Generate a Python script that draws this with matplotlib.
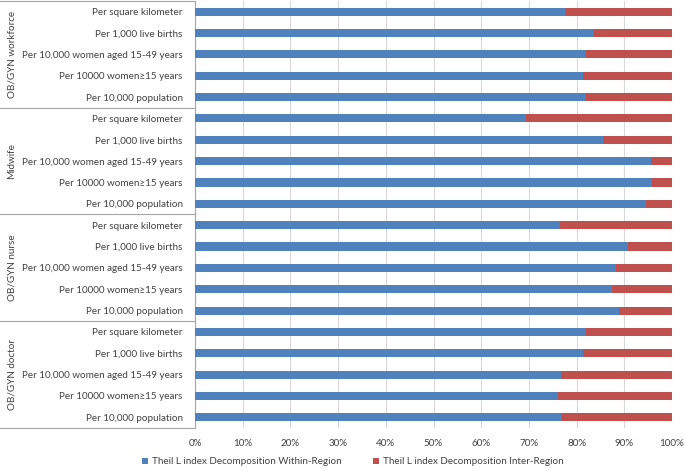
import numpy as np
import matplotlib.pyplot as plt
import matplotlib.transforms as mtransforms
from matplotlib.lines import Line2D

plt.rcParams['font.family'] = ['Lato', 'DejaVu Sans']

# groups, top to bottom
groups = ['OB/GYN workforce', 'Midwife', 'OB/GYN nurse', 'OB/GYN doctor']
measures = ['Per square kilometer', 'Per 1,000 live births',
            'Per 10,000 women aged 15-49 years', 'Per 10000 women\u226515 years',
            'Per 10,000 population']

# within-region share (%), one list per group, same order as measures
within_workforce = [77.6, 83.6, 82.0, 81.4, 82.0]
within_midwife = [69.3, 85.6, 95.5, 95.8, 94.5]
within_nurse = [76.5, 90.7, 88.3, 87.5, 88.9]
within_doctor = [82.0, 81.3, 76.8, 76.1, 77.0]

within = np.array(within_workforce + within_midwife + within_nurse + within_doctor)
inter = 100 - within
labels = measures * len(groups)

blue = '#4F81BD'
red = '#C0504D'
txt = '#404040'
line_c = '#A6A6A6'
fs = 7.1

fig = plt.figure(figsize=(6.85, 4.71), dpi=100)
ax = fig.add_axes([195/685, 1 - 428/471, 477/685, 427/471])

n = len(within)
y = np.arange(n)[::-1]
h = 0.38
ax.barh(y, within, height=h, color=blue, label='Theil L index Decomposition Within-Region', zorder=3)
ax.barh(y, inter, left=within, height=h, color=red, label='Theil L index Decomposition Inter-Region', zorder=3)

ax.set_xlim(0, 100)
ax.set_ylim(-0.5, n - 0.5)
ax.set_xticks(np.arange(0, 101, 10))
ax.set_xticklabels([f'{v}%' for v in range(0, 101, 10)], fontsize=fs, color=txt)
ax.set_yticks(y)
ax.set_yticklabels(labels, fontsize=fs, color=txt)
ax.tick_params(axis='both', length=0)
ax.tick_params(axis='y', pad=9)
ax.tick_params(axis='x', pad=8)
ax.grid(axis='x', color='#D9D9D9', linewidth=0.8, zorder=0)
for s in ['top', 'right', 'bottom']:
    ax.spines[s].set_visible(False)
ax.spines['left'].set_color(line_c)
ax.spines['left'].set_linewidth(0.8)

# group separators and labels on the left
tr = mtransforms.blended_transform_factory(fig.transFigure, ax.transData)
x0, x1 = 0, 195/685
for k in range(len(groups) + 1):
    yy = n - 0.5 - k * len(measures)
    fig.add_artist(Line2D([x0, x1], [yy, yy], transform=tr, color=line_c, linewidth=0.8))
for k, g in enumerate(groups):
    yc = n - 1 - k * len(measures) - (len(measures) - 1) / 2
    fig.text(12/685, yc, g, transform=tr, rotation=90, ha='center', va='center',
             fontsize=fs, color=txt)

leg = fig.legend(loc='center', bbox_to_anchor=(353/685, 1 - 462/471), ncol=2,
                 frameon=False, fontsize=fs, handlelength=0.6, handleheight=0.6,
                 handletextpad=0.4, columnspacing=3.2)
for t in leg.get_texts():
    t.set_color(txt)

fig.savefig('out.png', dpi=100)
